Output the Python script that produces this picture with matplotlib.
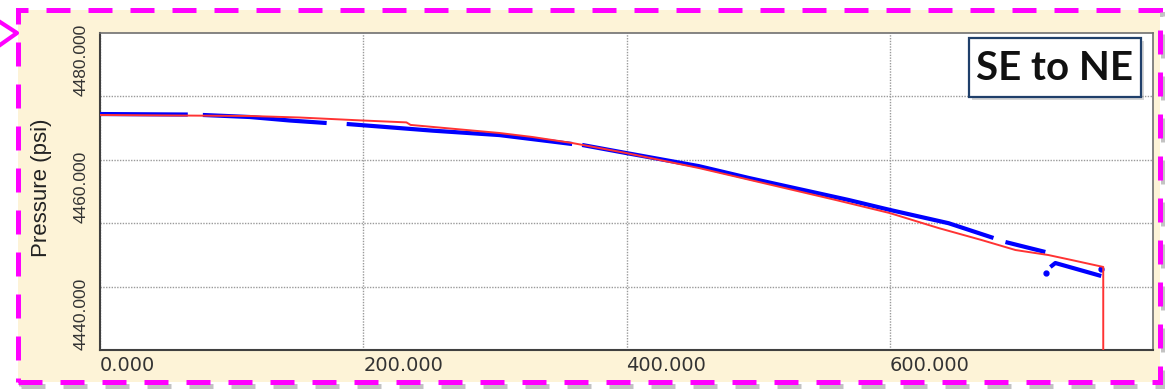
import numpy as np
import matplotlib
matplotlib.use("Agg")
import matplotlib.pyplot as plt
from matplotlib.patches import Rectangle
from matplotlib.lines import Line2D

W, H = 1165, 389

# model curve (red)
model_x = [0, 113.8, 151.7, 199.5, 232.8, 236, 303.4, 328.4, 358.7, 399.7, 455,
           477.8, 559, 600, 637, 669.7, 695.5, 720.5, 738, 762.2, 762.2]
model_y = [4477.07, 4476.91, 4476.67, 4476.2, 4475.9, 4475.5, 4474.23, 4473.6,
           4472.65, 4471.07, 4468.7, 4467.6, 4463.66, 4461.6, 4459.24, 4457.35,
           4455.77, 4454.98, 4454.2, 4453.1, 4440.0]

# measured pressure (blue), segments split by NaN
meas_x = [0, 66.7, np.nan,
          78.1, 113.8, 144.1, 172.2, np.nan,
          187.4, 252.5, 303.4, 358.7, np.nan,
          366.3, 399.7, 455, 493, 568.8, 600, 644.7, 678.8, np.nan,
          687.9, 718.2, np.nan,
          722, 725.8, 760.7]
meas_y = [4477.22, 4477.14, np.nan,
          4477.07, 4476.75, 4476.2, 4475.8, np.nan,
          4475.65, 4474.6, 4473.9, 4472.49, np.nan,
          4472.34, 4471.07, 4469.0, 4467.13, 4463.66, 4462.1, 4460.0, 4457.67, np.nan,
          4457.03, 4455.46, np.nan,
          4453.09, 4453.72, 4451.67]
dots_x = [719, 760.7]
dots_y = [4452.15, 4452.78]

xticks = [0, 200, 400, 600]
yticks = [4440, 4450, 4460, 4470, 4480]
ylabels = ["4440.000", "", "4460.000", "", "4480.000"]


def fx(px):
    return px / W


def fy(py):
    return 1 - py / H


fig = plt.figure(figsize=(W / 100, H / 100), dpi=100)
fig.patch.set_facecolor("white")

# frame: shadow, cream fill, magenta dashed border
x0, y0, x1, y1 = 18, 10, 1160, 382
fig.add_artist(Rectangle((fx(x0 + 3), fy(y1 + 4)), fx(x1 - x0), (y1 - y0) / H,
                         transform=fig.transFigure, fill=False, ec="#888888",
                         lw=3.6, ls=(0, (4.8, 3.6)), alpha=0.5, zorder=-3))
fig.add_artist(Rectangle((fx(x0), fy(y1)), fx(x1 - x0), (y1 - y0) / H,
                         transform=fig.transFigure, fc="#FDF3D7", ec="none",
                         zorder=-2))
fig.add_artist(Rectangle((fx(x0), fy(y1)), fx(x1 - x0), (y1 - y0) / H,
                         transform=fig.transFigure, fill=False, ec="#FF00FF",
                         lw=3.6, ls=(0, (4.8, 3.6)), zorder=-1))
# arrow head at top left
fig.add_artist(Line2D([fx(0), fx(17), fx(0)], [fy(22), fy(33), fy(45)],
                      transform=fig.transFigure, color="#FF00FF", lw=3))

ax = fig.add_axes([fx(100), fy(350), fx(1153 - 100), (350 - 33) / H])
ax.set_facecolor("white")

ax.plot(meas_x, meas_y, color="#0000FF", lw=3, solid_capstyle="butt", zorder=3)
ax.plot(dots_x, dots_y, "o", color="#0000FF", ms=3.5, zorder=3)
ax.plot(model_x, model_y, color="#FF3333", lw=1.4, zorder=4)

ax.set_xlim(0, 800)
ax.set_ylim(4440, 4490)
ax.set_xticks(xticks)
ax.set_xticklabels(["%.3f" % v for v in xticks], fontsize=14,
                   family="DejaVu Sans", color="#333333", ha="left")
ax.set_yticks(yticks)
ax.set_yticklabels(ylabels, fontsize=12.5, family="Liberation Sans",
                   color="#333333", rotation=90, va="bottom")
ax.tick_params(length=0)
ax.tick_params(axis="y", pad=8)
ax.tick_params(axis="x", pad=4)
ax.grid(True, color="#9a9a9a", lw=1, ls=(0, (1, 1)))
ax.set_axisbelow(True)

for side in ["left", "bottom"]:
    ax.spines[side].set_color("#404040")
    ax.spines[side].set_linewidth(1.5)
for side in ["top", "right"]:
    ax.spines[side].set_color("#707070")
    ax.spines[side].set_linewidth(1.2)

fig.text(fx(42), fy(188), "Pressure (psi)", rotation=90, ha="center",
         va="center", fontsize=16, family="Liberation Sans", color="#222222")

# title box
bx0, by0, bx1, by1 = 969, 38, 1141, 97
fig.add_artist(Rectangle((fx(bx0 + 3), fy(by1 + 3)), fx(bx1 - bx0), (by1 - by0) / H,
                         transform=fig.transFigure, fc="#999999", ec="none",
                         alpha=0.4, zorder=5))
fig.add_artist(Rectangle((fx(bx0), fy(by1)), fx(bx1 - bx0), (by1 - by0) / H,
                         transform=fig.transFigure, fc="white", ec="#1F3F6A",
                         lw=1.6, zorder=6))
fig.text(fx((bx0 + bx1) / 2), fy((by0 + by1) / 2 + 1), "SE to NE", ha="center",
         va="center", fontsize=29, fontweight="bold", family="Lato",
         color="#111111", zorder=7)

fig.savefig("out.png", dpi=100)
